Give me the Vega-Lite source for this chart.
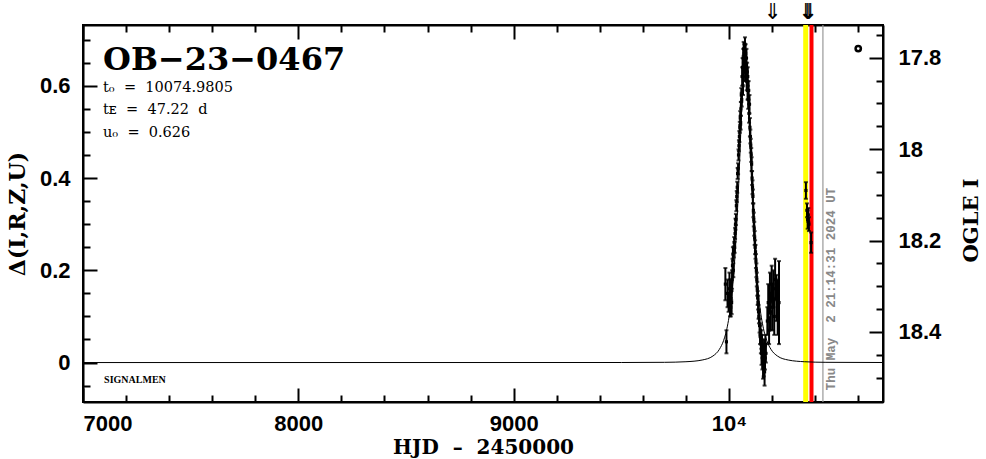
{
  "$schema": "https://vega.github.io/schema/vega-lite/v6.json",
  "width": 800,
  "height": 377,
  "autosize": {"type": "none"},
  "padding": {"left": 83, "top": 25, "right": 103, "bottom": 57},
  "background": "white",
  "config": {
    "view": {"stroke": "black", "strokeWidth": 2},
    "axis": {
      "domainColor": "black", "domainWidth": 2, "tickColor": "black", "tickWidth": 2,
      "grid": false, "labelFont": "Liberation Sans", "labelFontWeight": "bold",
      "labelFontSize": 22, "labelColor": "black", "titleColor": "black",
      "titleFont": "DejaVu Serif", "titleFontWeight": "bold", "titleFontSize": 21,
      "labelOverlap": false
    }
  },
  "datasets": {
    "model": [
      {"t": 7000, "m": 0}, {"t": 9500, "m": 0.0001}, {"t": 9700, "m": 0.0005}, {"t": 9800, "m": 0.0018},
      {"t": 9875, "m": 0.0055}, {"t": 9925, "m": 0.0141}, {"t": 9955, "m": 0.0285}, {"t": 9975, "m": 0.048},
      {"t": 9985, "m": 0.0634}, {"t": 9995, "m": 0.085}, {"t": 10005, "m": 0.114}, {"t": 10015, "m": 0.156},
      {"t": 10025, "m": 0.213}, {"t": 10035, "m": 0.29}, {"t": 10040, "m": 0.337}, {"t": 10045, "m": 0.389},
      {"t": 10050, "m": 0.446}, {"t": 10055, "m": 0.504}, {"t": 10060, "m": 0.56}, {"t": 10065, "m": 0.608},
      {"t": 10070, "m": 0.64}, {"t": 10075, "m": 0.652}, {"t": 10080, "m": 0.64}, {"t": 10085, "m": 0.608},
      {"t": 10090, "m": 0.56}, {"t": 10095, "m": 0.504}, {"t": 10100, "m": 0.446}, {"t": 10105, "m": 0.389},
      {"t": 10110, "m": 0.337}, {"t": 10115, "m": 0.29}, {"t": 10125, "m": 0.213}, {"t": 10135, "m": 0.156},
      {"t": 10145, "m": 0.114}, {"t": 10155, "m": 0.085}, {"t": 10165, "m": 0.0634}, {"t": 10175, "m": 0.048},
      {"t": 10195, "m": 0.0285}, {"t": 10225, "m": 0.0141}, {"t": 10275, "m": 0.0055}, {"t": 10350, "m": 0.0018},
      {"t": 10450, "m": 0.0005}, {"t": 10715, "m": 0.0001}
    ],
    "obs": [
      {"t": 9983, "d": 0.17, "e": 0.035}, {"t": 9988, "d": 0.045, "e": 0.025}, {"t": 9993, "d": 0.15, "e": 0.03},
      {"t": 9998, "d": 0.13, "e": 0.02}, {"t": 10002, "d": 0.16, "e": 0.035}, {"t": 10005, "d": 0.14, "e": 0.04},
      {"t": 10008, "d": 0.12, "e": 0.02}, {"t": 10010, "d": 0.155, "e": 0.02}, {"t": 10012, "d": 0.13, "e": 0.025},
      {"t": 10014, "d": 0.18, "e": 0.02}, {"t": 10016, "d": 0.21, "e": 0.015}, {"t": 10018, "d": 0.235, "e": 0.015},
      {"t": 10020, "d": 0.2, "e": 0.015}, {"t": 10022, "d": 0.24, "e": 0.012}, {"t": 10024, "d": 0.26, "e": 0.012},
      {"t": 10026, "d": 0.25, "e": 0.012}, {"t": 10028, "d": 0.28, "e": 0.012}, {"t": 10030, "d": 0.3, "e": 0.012},
      {"t": 10032, "d": 0.31, "e": 0.012}, {"t": 10034, "d": 0.34, "e": 0.012}, {"t": 10036, "d": 0.36, "e": 0.012},
      {"t": 10038, "d": 0.38, "e": 0.012}, {"t": 10040, "d": 0.41, "e": 0.012}, {"t": 10042, "d": 0.42, "e": 0.012},
      {"t": 10044, "d": 0.45, "e": 0.012}, {"t": 10046, "d": 0.47, "e": 0.012}, {"t": 10048, "d": 0.49, "e": 0.012},
      {"t": 10050, "d": 0.51, "e": 0.012}, {"t": 10052, "d": 0.53, "e": 0.015}, {"t": 10054, "d": 0.52, "e": 0.015},
      {"t": 10055, "d": 0.55, "e": 0.015}, {"t": 10057, "d": 0.58, "e": 0.015}, {"t": 10059, "d": 0.57, "e": 0.015},
      {"t": 10061, "d": 0.62, "e": 0.02}, {"t": 10063, "d": 0.64, "e": 0.02}, {"t": 10065, "d": 0.6, "e": 0.02},
      {"t": 10066, "d": 0.66, "e": 0.02}, {"t": 10068, "d": 0.68, "e": 0.015}, {"t": 10069, "d": 0.63, "e": 0.02},
      {"t": 10071, "d": 0.67, "e": 0.02}, {"t": 10073, "d": 0.65, "e": 0.02}, {"t": 10074, "d": 0.69, "e": 0.015},
      {"t": 10076, "d": 0.63, "e": 0.02}, {"t": 10077, "d": 0.67, "e": 0.02}, {"t": 10079, "d": 0.64, "e": 0.02},
      {"t": 10081, "d": 0.66, "e": 0.02}, {"t": 10082, "d": 0.61, "e": 0.02}, {"t": 10084, "d": 0.63, "e": 0.02},
      {"t": 10086, "d": 0.59, "e": 0.02}, {"t": 10087, "d": 0.62, "e": 0.02}, {"t": 10089, "d": 0.57, "e": 0.02},
      {"t": 10091, "d": 0.59, "e": 0.02}, {"t": 10093, "d": 0.54, "e": 0.02}, {"t": 10095, "d": 0.56, "e": 0.02},
      {"t": 10097, "d": 0.51, "e": 0.02}, {"t": 10099, "d": 0.49, "e": 0.015}, {"t": 10101, "d": 0.47, "e": 0.015},
      {"t": 10103, "d": 0.45, "e": 0.015}, {"t": 10105, "d": 0.43, "e": 0.015}, {"t": 10107, "d": 0.4, "e": 0.015},
      {"t": 10109, "d": 0.38, "e": 0.015}, {"t": 10111, "d": 0.36, "e": 0.015}, {"t": 10113, "d": 0.33, "e": 0.015},
      {"t": 10115, "d": 0.31, "e": 0.015}, {"t": 10117, "d": 0.29, "e": 0.015}, {"t": 10119, "d": 0.27, "e": 0.015},
      {"t": 10121, "d": 0.25, "e": 0.015}, {"t": 10123, "d": 0.24, "e": 0.015}, {"t": 10125, "d": 0.22, "e": 0.015},
      {"t": 10127, "d": 0.2, "e": 0.015}, {"t": 10129, "d": 0.18, "e": 0.015}, {"t": 10131, "d": 0.16, "e": 0.015},
      {"t": 10133, "d": 0.14, "e": 0.015}, {"t": 10135, "d": 0.13, "e": 0.015}, {"t": 10137, "d": 0.11, "e": 0.015},
      {"t": 10139, "d": 0.1, "e": 0.015}, {"t": 10142, "d": 0.08, "e": 0.015}, {"t": 10144, "d": 0.06, "e": 0.02},
      {"t": 10146, "d": 0.07, "e": 0.015}, {"t": 10148, "d": 0.04, "e": 0.02}, {"t": 10150, "d": 0.05, "e": 0.02},
      {"t": 10151, "d": 0.02, "e": 0.025}, {"t": 10153, "d": 0.04, "e": 0.02}, {"t": 10155, "d": 0.01, "e": 0.025},
      {"t": 10156, "d": 0.03, "e": 0.02}, {"t": 10158, "d": -0.01, "e": 0.025}, {"t": 10159, "d": 0.02, "e": 0.02},
      {"t": 10161, "d": 0.0, "e": 0.03}, {"t": 10163, "d": 0.03, "e": 0.02}, {"t": 10165, "d": -0.02, "e": 0.03},
      {"t": 10167, "d": 0.01, "e": 0.025}, {"t": 10169, "d": 0.04, "e": 0.02}, {"t": 10171, "d": 0.02, "e": 0.02},
      {"t": 10178, "d": 0.09, "e": 0.03}, {"t": 10182, "d": 0.13, "e": 0.04}, {"t": 10186, "d": 0.07, "e": 0.03},
      {"t": 10190, "d": 0.15, "e": 0.045}, {"t": 10194, "d": 0.11, "e": 0.04}, {"t": 10198, "d": 0.17, "e": 0.04},
      {"t": 10202, "d": 0.12, "e": 0.05}, {"t": 10206, "d": 0.16, "e": 0.04}, {"t": 10210, "d": 0.1, "e": 0.04},
      {"t": 10214, "d": 0.18, "e": 0.045}, {"t": 10220, "d": 0.14, "e": 0.05}, {"t": 10226, "d": 0.12, "e": 0.06},
      {"t": 10232, "d": 0.13, "e": 0.09},
      {"t": 10357, "d": 0.373, "e": 0.018}, {"t": 10362, "d": 0.33, "e": 0.015}, {"t": 10365, "d": 0.31, "e": 0.02},
      {"t": 10368, "d": 0.32, "e": 0.015}, {"t": 10371, "d": 0.3, "e": 0.015}, {"t": 10381, "d": 0.26, "e": 0.022}
    ]
  },
  "layer": [
    {
      "layer": [
        {
          "data": {"values": [{"t": 10356}]},
          "mark": {"type": "rule", "color": "#ffff00", "strokeWidth": 5},
          "encoding": {
            "x": {"field": "t", "type": "quantitative",
              "scale": {"domain": [7000, 10715], "nice": false, "zero": false},
              "axis": {"orient": "top", "labels": false, "title": null, "domain": true,
                "values": [7000,7200,7400,7600,7800,8000,8200,8400,8600,8800,9000,9200,9400,9600,9800,10000,10200,10400,10600],
                "tickSize": {"condition": {"test": "datum.value % 1000 == 0", "value": -14}, "value": -7}}}
          }
        },
        {
          "data": {"values": [{"t": 10383}]},
          "mark": {"type": "rule", "color": "#ff0000", "strokeWidth": 4},
          "encoding": {"x": {"field": "t", "type": "quantitative", "axis": null}}
        },
        {
          "data": {"values": [{"t": 10436}]},
          "mark": {"type": "rule", "color": "#999999", "strokeWidth": 1.2},
          "encoding": {"x": {"field": "t", "type": "quantitative", "axis": null}}
        },
        {
          "data": {"name": "model"},
          "mark": {"type": "line", "color": "black", "strokeWidth": 1, "interpolate": "monotone", "clip": true},
          "encoding": {
            "x": {"field": "t", "type": "quantitative",
              "scale": {"domain": [7000, 10715], "nice": false, "zero": false},
              "axis": {"orient": "bottom", "title": "HJD \u00a0\u2013\u00a0 2450000", "titlePadding": -4, "titleFontSize": 20,
                "values": [7000,7200,7400,7600,7800,8000,8200,8400,8600,8800,9000,9200,9400,9600,9800,10000,10200,10400,10600],
                "labelExpr": "datum.value == 10000 ? '10\u2074' : (datum.value % 1000 == 0 ? toString(datum.value) : '')",
                "labelFlush": true, "labelPadding": 25, "labelFontSize": 22,
                "tickSize": {"condition": {"test": "datum.value % 1000 == 0", "value": -14}, "value": -7}}},
            "y": {"field": "m", "type": "quantitative",
              "scale": {"domain": [-0.0855, 0.7317], "nice": false, "zero": false},
              "axis": {"orient": "left", "title": "\u0394(I,R,Z,U)", "titlePadding": 10, "titleFontSize": 22,
                "values": [-0.05,0,0.05,0.1,0.15,0.2,0.25,0.3,0.35,0.4,0.45,0.5,0.55,0.6,0.65,0.7],
                "labelExpr": "abs(datum.value*5 - round(datum.value*5)) < 0.001 ? toString(round(datum.value*10)/10) : ''",
                "labelPadding": 27,
                "tickSize": {"condition": {"test": "abs(datum.value*5 - round(datum.value*5)) < 0.001", "value": -14}, "value": -7}}}
          }
        },
        {
          "data": {"name": "obs"},
          "mark": {"type": "errorbar", "ticks": {"size": 4, "color": "black", "strokeWidth": 1.5}, "color": "black", "thickness": 2},
          "encoding": {
            "x": {"field": "t", "type": "quantitative", "axis": null},
            "y": {"field": "d", "type": "quantitative", "scale": {"domain": [-0.0855, 0.7317], "nice": false, "zero": false}, "axis": null},
            "yError": {"field": "e"}
          }
        },
        {
          "data": {"name": "obs"},
          "mark": {"type": "square", "color": "black", "filled": true, "size": 10, "opacity": 1},
          "encoding": {
            "x": {"field": "t", "type": "quantitative", "axis": null},
            "y": {"field": "d", "type": "quantitative", "scale": {"domain": [-0.0855, 0.7317], "nice": false, "zero": false}, "axis": null}
          }
        },
        {
          "data": {"values": [{"label": "OB\u221223\u22120467"}]},
          "mark": {"type": "text", "font": "DejaVu Serif", "fontWeight": "bold", "fontSize": 32, "align": "left", "baseline": "alphabetic", "color": "black"},
          "encoding": {
            "x": {"datum": 7093, "type": "quantitative", "axis": null},
            "y": {"datum": 0.634, "type": "quantitative", "scale": {"domain": [-0.0855, 0.7317], "nice": false, "zero": false}, "axis": null},
            "text": {"field": "label"}
          }
        },
        {
          "data": {"values": [
            {"label": "t\u2080 \u00a0=\u00a0 10074.9805", "row": 0.5874},
            {"label": "t\u1d07 \u00a0=\u00a0 47.22 \u00a0d", "row": 0.5386},
            {"label": "u\u2080 \u00a0=\u00a0 0.626", "row": 0.4898}
          ]},
          "mark": {"type": "text", "font": "DejaVu Serif", "fontSize": 14.5, "align": "left", "baseline": "alphabetic", "color": "black"},
          "encoding": {
            "x": {"datum": 7093, "type": "quantitative", "axis": null},
            "y": {"field": "row", "type": "quantitative", "scale": {"domain": [-0.0855, 0.7317], "nice": false, "zero": false}, "axis": null},
            "text": {"field": "label"}
          }
        },
        {
          "data": {"values": [{"label": "SIGNALMEN"}]},
          "mark": {"type": "text", "font": "Liberation Serif", "fontWeight": "bold", "fontSize": 10, "align": "left", "baseline": "alphabetic", "color": "black"},
          "encoding": {
            "x": {"datum": 7098, "type": "quantitative", "axis": null},
            "y": {"datum": -0.045, "type": "quantitative", "scale": {"domain": [-0.0855, 0.7317], "nice": false, "zero": false}, "axis": null},
            "text": {"field": "label"}
          }
        },
        {
          "data": {"values": [{"label": "Thu May \u00a02 21:14:31 2024 UT"}]},
          "mark": {"type": "text", "font": "Liberation Mono", "fontWeight": "bold", "fontSize": 12.5, "align": "left", "baseline": "middle", "angle": 270, "color": "#888888"},
          "encoding": {
            "x": {"datum": 10474, "type": "quantitative", "axis": null},
            "y": {"datum": -0.06, "type": "quantitative", "scale": {"domain": [-0.0855, 0.7317], "nice": false, "zero": false}, "axis": null},
            "text": {"field": "label"}
          }
        },
        {
          "data": {"values": [{"t": 10203}, {"t": 10364}, {"t": 10371}]},
          "mark": {"type": "text", "font": "DejaVu Sans", "fontSize": 22, "align": "center", "baseline": "alphabetic", "color": "black", "text": "\u21d3"},
          "encoding": {
            "x": {"field": "t", "type": "quantitative", "axis": null},
            "y": {"datum": 0.745, "type": "quantitative", "scale": {"domain": [-0.0855, 0.7317], "nice": false, "zero": false}, "axis": null}
          }
        }
      ],
      "resolve": {"axis": {"x": "independent", "y": "independent"}}
    },
    {
      "data": {"values": [{"t": 10600, "mag": 17.78}]},
      "mark": {"type": "point", "shape": "circle", "filled": false, "color": "black", "strokeWidth": 2.5, "size": 28, "opacity": 1},
      "encoding": {
        "x": {"field": "t", "type": "quantitative", "axis": null},
        "y": {"field": "mag", "type": "quantitative",
          "scale": {"domain": [17.7284, 18.5533], "reverse": true, "nice": false, "zero": false},
          "axis": {"orient": "right", "title": "OGLE I", "titleAngle": 270, "titlePadding": 41, "titleY": 195,
            "values": [17.75,17.8,17.85,17.9,17.95,18,18.05,18.1,18.15,18.2,18.25,18.3,18.35,18.4,18.45,18.5],
            "labelExpr": "abs((datum.value-17.8)*5 - round((datum.value-17.8)*5)) < 0.001 ? toString(round(datum.value*10)/10) : ''",
            "labelPadding": 29,
            "tickSize": {"condition": {"test": "abs((datum.value-17.8)*5 - round((datum.value-17.8)*5)) < 0.001", "value": -14}, "value": -7}}}
      }
    }
  ],
  "resolve": {"scale": {"y": "independent"}, "axis": {"x": "independent", "y": "independent"}}
}
